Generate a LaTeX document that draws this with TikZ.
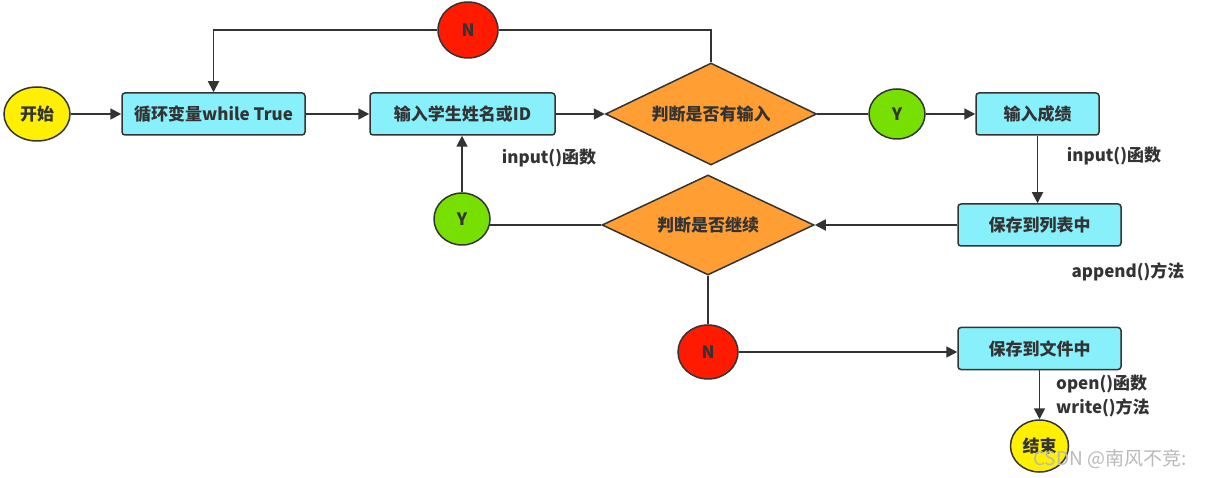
\documentclass[tikz,border=0pt]{standalone}
\usepackage{fontspec}
\setmainfont{Noto Sans CJK SC}
\usetikzlibrary{shapes.geometric,arrows.meta,backgrounds}
\definecolor{ink}{HTML}{333333}
\definecolor{cyanbox}{HTML}{88F0FB}
\definecolor{yel}{HTML}{FFF000}
\definecolor{org}{HTML}{FF9F33}
\definecolor{grn}{HTML}{77E000}
\definecolor{rd}{HTML}{FF1A00}
\tikzset{
  every node/.style={font=\fontsize{17}{20}\selectfont\bfseries, text=ink},
  box/.style={draw=ink, line width=1.5pt, fill=cyanbox, rounded corners=3pt, minimum height=42, inner sep=0},
  oval/.style={ellipse, draw=ink, line width=1.5pt, minimum width=58, minimum height=52, inner sep=0},
  dia/.style={diamond, draw=ink, line width=1.5pt, fill=org, aspect=2, inner sep=0},
  conn/.style={draw=ink, line width=1.8pt},
  arr/.style={conn, -{Triangle[length=11pt,width=11pt]}},
  lbl/.style={font=\fontsize{17}{20}\selectfont\bfseries}
}
\begin{document}
\begin{tikzpicture}[x=1pt,y=-1pt]
\useasboundingbox (0,0) rectangle (1205,478);
\node[oval, fill=yel, minimum width=66, minimum height=54] (start) at (37,114) {开始};
\node[box, minimum width=183] (loop) at (213.5,114) {循环变量while True};
\node[box, minimum width=185] (in) at (462.5,114) {输入学生姓名或ID};
\node[dia, minimum width=211, minimum height=102] (d1) at (711,114) {判断是否有输入};
\node[oval, fill=grn, minimum width=56, minimum height=50] (y1) at (897,114) {Y};
\node[box, minimum width=123] (score) at (1037.5,114) {输入成绩};
\node[oval, fill=rd, minimum width=60, minimum height=56] (n1) at (468,30) {N};
\node[box, minimum width=163] (list) at (1039.5,225) {保存到列表中};
\node[dia, minimum width=212, minimum height=100] (d2) at (708,225) {判断是否继续};
\node[oval, fill=grn, minimum width=56, minimum height=52] (y2) at (462,219) {Y};
\node[oval, fill=rd, minimum width=60, minimum height=54] (n2) at (708,352) {N};
\node[box, minimum width=163] (file) at (1039.5,348.5) {保存到文件中};
\node[oval, fill=yel, minimum width=58, minimum height=52] (end) at (1039.5,446) {结束};

\node[lbl] (l1) at (549,158) {input()函数};
\node[lbl] (l2) at (1114,156) {input()函数};
\node[lbl] (l3) at (1128,272) {append()方法};
\node[lbl, anchor=west, inner sep=0] (l4) at (1056,384) {open()函数};
\node[lbl, anchor=west, inner sep=0] (l5) at (1056,408) {write()方法};
\node[font=\fontsize{19}{22}\selectfont, text=gray!55, anchor=west, inner sep=0] (wm) at (1033,459) {CSDN @南风不竞:};

\draw[arr] (start) -- (loop);
\draw[arr] (loop) -- (in);
\draw[arr] (in) -- (d1.west);
\draw[conn] (d1.north) |- (n1.east);
\draw[arr] (n1.west) -| (loop.north);
\draw[conn] (d1.east) -- (y1.west);
\draw[arr] (y1) -- (score);
\draw[arr] (score.south) -- (score.south |- list.north);
\draw[arr] (list.west) -- (d2.east);
\begin{scope}[on background layer]
\draw[conn] (d2.west) -- (y2.center |- d2.west);
\end{scope}
\draw[arr] (y2.north) -- (y2.north |- in.south);
\draw[conn] (d2.south) -- (n2.north);
\draw[arr] (n2.east) -- (n2.east -| file.west);
\draw[arr] (file.south) -- (end.north);
\end{tikzpicture}
\end{document}
